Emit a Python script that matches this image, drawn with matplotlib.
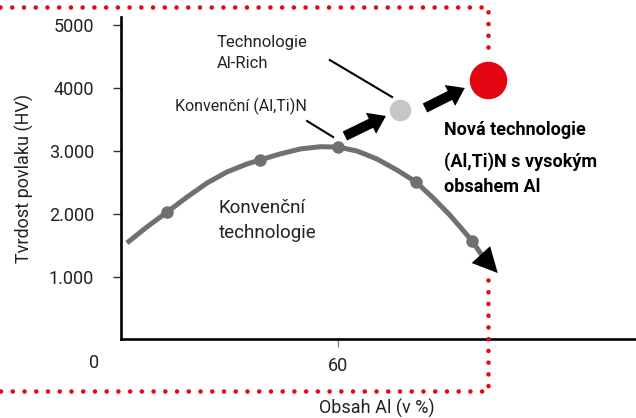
import matplotlib.pyplot as plt
from matplotlib.transforms import blended_transform_factory

plt.rcParams['font.family'] = ['Roboto', 'DejaVu Sans']

# conventional technology curve
curve_x = [8.1, 13.0, 18.0, 22.9, 27.8, 32.7, 37.6, 40.8, 45.7, 50.7, 55.6, 60.0,
           64.7, 69.6, 74.5, 79.2, 83.4, 87.5, 90.7, 93.0, 95.7]
curve_y = [1540, 1794, 2032, 2270, 2492, 2667, 2794, 2857, 2952, 3032, 3068, 3063,
           3000, 2873, 2698, 2508, 2254, 1984, 1746, 1571, 1317]
marker_x = [18.0, 40.8, 60.0, 79.2, 93.0]
marker_y = [2032, 2857, 3063, 2508, 1571]
curve_tip = (99.3, 1063)

alrich = (75.2, 3651)
new_tech = (96.9, 4127)

yticks = [1000, 2000, 3000, 4000, 5000]
ytick_labels = ['1.000', '2.000', '3.000', '4000', '5000']
xticks = [60]

# block arrows: (start, tip)
arrows = [((61.7, 3238), (71.8, 3556)), ((81.4, 3683), (91.2, 4000))]
# leader lines
leaders = [((58.0, 4444), (73.3, 3857)), ((52.4, 3476), (58.8, 3222))]

# red dotted frame
frame_left = -23.1
frame_top = 5286
frame_bottom = -810
frame_gap_top = 4524
frame_gap_bottom = 952

txt = '#222222'
red = '#e30613'

fig = plt.figure(figsize=(6.36, 4.18), dpi=100)
ax = fig.add_axes([121 / 636, (418 - 339) / 418, (636 - 121) / 636, (339 - 17) / 418])
ax.set_xlim(6.64, 133.3)
ax.set_ylim(16, 5127)

for s in ['top', 'right']:
    ax.spines[s].set_visible(False)
for s in ['left', 'bottom']:
    ax.spines[s].set_linewidth(1.9)
    ax.spines[s].set_color('black')

ax.set_yticks(yticks)
ax.set_yticklabels(ytick_labels)
ax.set_xticks(xticks)
ax.set_xticklabels([str(v) for v in xticks])
ax.tick_params(axis='y', length=6, width=1, color='#333333', pad=13.5,
               labelsize=13, labelcolor=txt)
ax.tick_params(axis='x', length=6, width=1, color='#888888', pad=7,
               labelsize=13, labelcolor=txt)

trans = blended_transform_factory(ax.transData, ax.transAxes)
ax.text(0, -0.075, '0', transform=trans, ha='center', va='center',
        fontsize=13, color=txt, clip_on=False)

ax.set_ylabel('Tvrdost povlaku (HV)', fontsize=13, color=txt)
ax.yaxis.set_label_coords(-0.169, 0.5)
fig.text(377 / 636, 1 - 399 / 418, 'Obsah Al (v %)', ha='center', va='top',
         fontsize=13, color=txt)

# curve
ax.plot(curve_x, curve_y, color='#707070', lw=3.6, solid_capstyle='butt',
        solid_joinstyle='round', zorder=3)
ax.plot(marker_x, marker_y, 'o', color='#707070', ms=8, zorder=3)
ax.annotate('', xy=curve_tip, xytext=(curve_x[-1], curve_y[-1]),
            arrowprops=dict(arrowstyle='-|>,head_length=1.0,head_width=0.5',
                            mutation_scale=18, color='black', lw=0,
                            shrinkA=0, shrinkB=0), zorder=4)

# points
ax.plot(*alrich, 'o', color='#c6c6c6', ms=14.5, zorder=3)
ax.plot(*new_tech, 'o', color=red, ms=26, zorder=3, clip_on=False)

for start, tip in arrows:
    ax.annotate('', xy=tip, xytext=start,
                arrowprops=dict(arrowstyle='simple,tail_width=0.45,head_width=1.05,head_length=0.75',
                                mutation_scale=16, color='black', lw=0,
                                shrinkA=0, shrinkB=0))

for a, b in leaders:
    ax.plot([a[0], b[0]], [a[1], b[1]], color='black', lw=1.5)

dot = dict(color=red, lw=3.3, linestyle=(0, (0.01, 2.55)), dash_capstyle='round',
           clip_on=False, zorder=5)
ax.plot([frame_left, new_tech[0], new_tech[0]], [frame_top, frame_top, frame_gap_top], **dot)
ax.plot([new_tech[0], new_tech[0], frame_left], [frame_gap_bottom, frame_bottom, frame_bottom], **dot)

# labels
ax.text(30.2, 4651, 'Technologie', fontsize=12, color=txt, va='baseline')
ax.text(30.2, 4317, 'Al-Rich', fontsize=12, color=txt, va='baseline')
ax.text(19.9, 3635, 'Konvenční (Al,Ti)N', fontsize=11.5, color=txt, va='baseline')
ax.text(30.7, 2016, 'Konvenční', fontsize=13.5, color=txt, va='baseline')
ax.text(30.7, 1619, 'technologie', fontsize=13.5, color=txt, va='baseline')

ax.text(86.1, 3254, 'Nová technologie', fontsize=13, fontweight='bold', color='black', va='baseline')
ax.text(86.1, 2746, '(Al,Ti)N s vysokým', fontsize=13, fontweight='bold', color='black', va='baseline')
ax.text(86.1, 2349, 'obsahem Al', fontsize=13, fontweight='bold', color='black', va='baseline')

fig.savefig('out.png', dpi=100)
